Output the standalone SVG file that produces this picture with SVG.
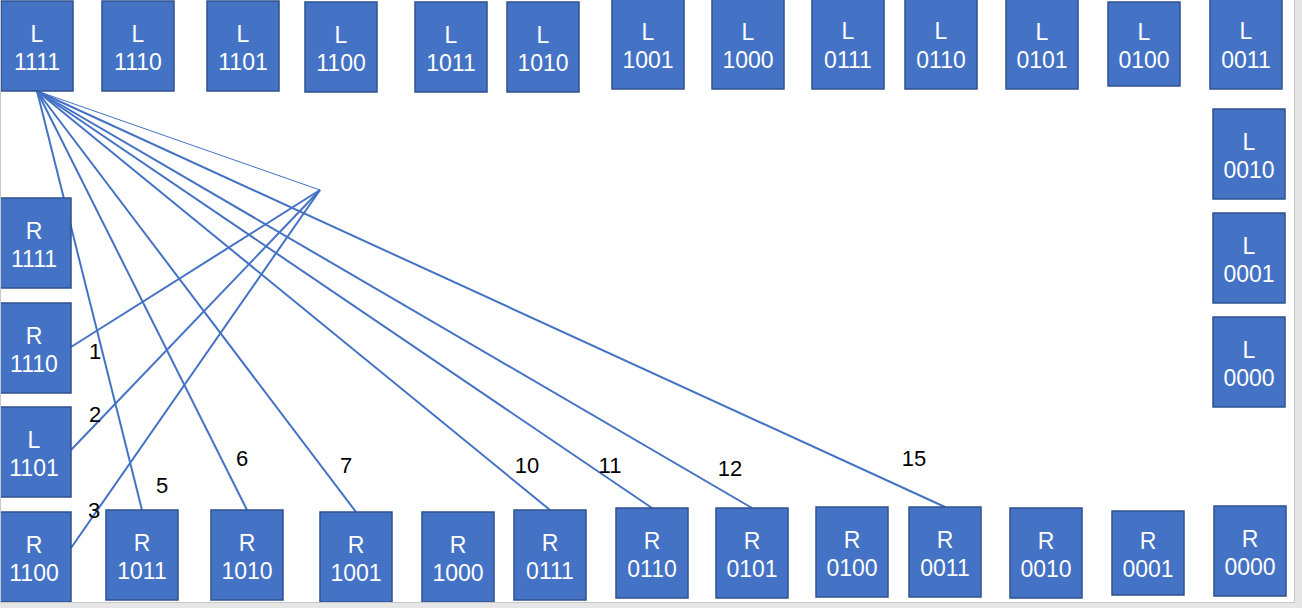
<svg xmlns="http://www.w3.org/2000/svg" width="1302" height="608" viewBox="0 0 1302 608">
<style>
.box{fill:#4472c4;stroke:#2f528f;stroke-width:1.5}
.t{font-family:"Liberation Sans",Arial,sans-serif;font-size:23px;fill:#ffffff;text-anchor:middle}
.n{font-family:"Liberation Sans",Arial,sans-serif;font-size:22px;fill:#000000;text-anchor:middle}
.c{stroke:#4472c4;stroke-width:2;fill:none}
.thin{stroke:#4472c4;stroke-width:1;fill:none}
</style>
<rect x="0" y="0" width="1302" height="608" fill="#ffffff"/>
<g id="connectors">
<line class="c" x1="37" y1="91" x2="142" y2="510"/>
<line class="c" x1="37" y1="91" x2="247" y2="510"/>
<line class="c" x1="37" y1="91" x2="356" y2="512"/>
<line class="c" x1="37" y1="91" x2="550" y2="510"/>
<line class="c" x1="37" y1="91" x2="652" y2="508"/>
<line class="c" x1="37" y1="91" x2="752" y2="508"/>
<line class="c" x1="37" y1="91" x2="945" y2="507"/>
<line class="thin" x1="37" y1="91" x2="320" y2="190"/>
<line class="c" x1="320" y1="190" x2="71" y2="347"/>
<line class="c" x1="320" y1="190" x2="71" y2="450"/>
<line class="c" x1="320" y1="190" x2="71" y2="548"/>
</g>
<g id="L1111"><rect class="box" x="1" y="1" width="72" height="90"/><text class="t" x="37" y="41.5">L</text><text class="t" x="37" y="70">1111</text></g>
<g id="L1110"><rect class="box" x="102" y="1" width="72" height="90"/><text class="t" x="138" y="41.5">L</text><text class="t" x="138" y="70">1110</text></g>
<g id="L1101"><rect class="box" x="207" y="1" width="72" height="90"/><text class="t" x="243" y="41.5">L</text><text class="t" x="243" y="70">1101</text></g>
<g id="L1100"><rect class="box" x="305" y="2" width="72" height="90"/><text class="t" x="341" y="42.5">L</text><text class="t" x="341" y="71">1100</text></g>
<g id="L1011"><rect class="box" x="415" y="2" width="72" height="90"/><text class="t" x="451" y="42.5">L</text><text class="t" x="451" y="71">1011</text></g>
<g id="L1010"><rect class="box" x="507" y="2" width="72" height="90"/><text class="t" x="543" y="42.5">L</text><text class="t" x="543" y="71">1010</text></g>
<g id="L1001"><rect class="box" x="612" y="-1" width="72" height="90"/><text class="t" x="648" y="39.5">L</text><text class="t" x="648" y="68">1001</text></g>
<g id="L1000"><rect class="box" x="712" y="-1" width="72" height="90"/><text class="t" x="748" y="39.5">L</text><text class="t" x="748" y="68">1000</text></g>
<g id="L0111"><rect class="box" x="812" y="-1" width="72" height="90"/><text class="t" x="848" y="39">L</text><text class="t" x="848" y="67.5">0111</text></g>
<g id="L0110"><rect class="box" x="905" y="-1" width="72" height="90"/><text class="t" x="941" y="39">L</text><text class="t" x="941" y="67.5">0110</text></g>
<g id="L0101"><rect class="box" x="1006" y="-1" width="72" height="90"/><text class="t" x="1042" y="39.5">L</text><text class="t" x="1042" y="68">0101</text></g>
<g id="L0100"><rect class="box" x="1108" y="2" width="72" height="84"/><text class="t" x="1144" y="39.5">L</text><text class="t" x="1144" y="68">0100</text></g>
<g id="L0011"><rect class="box" x="1210" y="-1" width="72" height="90"/><text class="t" x="1246" y="39">L</text><text class="t" x="1246" y="67.5">0011</text></g>
<g id="L0010"><rect class="box" x="1213" y="109" width="72" height="90"/><text class="t" x="1249" y="149.5">L</text><text class="t" x="1249" y="178">0010</text></g>
<g id="L0001"><rect class="box" x="1213" y="213" width="72" height="90"/><text class="t" x="1249" y="253.5">L</text><text class="t" x="1249" y="282">0001</text></g>
<g id="L0000"><rect class="box" x="1213" y="317" width="72" height="90"/><text class="t" x="1249" y="357.5">L</text><text class="t" x="1249" y="386">0000</text></g>
<g id="R1111"><rect class="box" x="-1" y="198" width="72" height="90"/><text class="t" x="34" y="238.5">R</text><text class="t" x="34" y="267">1111</text></g>
<g id="R1110"><rect class="box" x="-1" y="303" width="72" height="90"/><text class="t" x="34" y="343.5">R</text><text class="t" x="34" y="372">1110</text></g>
<g id="L1101b"><rect class="box" x="-1" y="407" width="72" height="90"/><text class="t" x="34" y="447.5">L</text><text class="t" x="34" y="476">1101</text></g>
<g id="R1100"><rect class="box" x="-1" y="512" width="72" height="90"/><text class="t" x="34" y="552.5">R</text><text class="t" x="34" y="581">1100</text></g>
<g id="R1011"><rect class="box" x="106" y="510" width="72" height="90"/><text class="t" x="142" y="550.5">R</text><text class="t" x="142" y="579">1011</text></g>
<g id="R1010"><rect class="box" x="211" y="510" width="72" height="90"/><text class="t" x="247" y="550.5">R</text><text class="t" x="247" y="579">1010</text></g>
<g id="R1001"><rect class="box" x="320" y="512" width="72" height="90"/><text class="t" x="356" y="552.5">R</text><text class="t" x="356" y="581">1001</text></g>
<g id="R1000"><rect class="box" x="422" y="512" width="72" height="90"/><text class="t" x="458" y="552.5">R</text><text class="t" x="458" y="581">1000</text></g>
<g id="R0111"><rect class="box" x="514" y="510" width="72" height="90"/><text class="t" x="550" y="550.5">R</text><text class="t" x="550" y="579">0111</text></g>
<g id="R0110"><rect class="box" x="616" y="508" width="72" height="90"/><text class="t" x="652" y="548.5">R</text><text class="t" x="652" y="577">0110</text></g>
<g id="R0101"><rect class="box" x="716" y="508" width="72" height="90"/><text class="t" x="752" y="548.5">R</text><text class="t" x="752" y="577">0101</text></g>
<g id="R0100"><rect class="box" x="816" y="507" width="72" height="90"/><text class="t" x="852" y="547.5">R</text><text class="t" x="852" y="576">0100</text></g>
<g id="R0011"><rect class="box" x="909" y="507" width="72" height="90"/><text class="t" x="945" y="547.5">R</text><text class="t" x="945" y="576">0011</text></g>
<g id="R0010"><rect class="box" x="1010" y="508" width="72" height="90"/><text class="t" x="1046" y="548.5">R</text><text class="t" x="1046" y="577">0010</text></g>
<g id="R0001"><rect class="box" x="1112" y="511" width="72" height="84"/><text class="t" x="1148" y="548.5">R</text><text class="t" x="1148" y="577">0001</text></g>
<g id="R0000"><rect class="box" x="1214" y="506" width="72" height="90"/><text class="t" x="1250" y="546.5">R</text><text class="t" x="1250" y="575">0000</text></g>
<g id="labels">
<text class="n" x="95" y="359">1</text>
<text class="n" x="95" y="422">2</text>
<text class="n" x="94" y="518">3</text>
<text class="n" x="162" y="493">5</text>
<text class="n" x="242" y="466">6</text>
<text class="n" x="346" y="473">7</text>
<text class="n" x="527" y="473">10</text>
<text class="n" x="610" y="473">11</text>
<text class="n" x="730" y="476">12</text>
<text class="n" x="914" y="466">15</text>
</g>
<g id="frame">
<line x1="0.5" y1="0" x2="0.5" y2="602" stroke="#c8c8c8" stroke-width="1"/>
<rect x="1295" y="0" width="7" height="608" fill="#e6e6e6"/>
<rect x="0" y="603" width="1302" height="5" fill="#e6e6e6"/>
<line x1="1294.5" y1="0" x2="1294.5" y2="603" stroke="#c8c8c8" stroke-width="1"/>
<line x1="0" y1="602.5" x2="1295" y2="602.5" stroke="#c8c8c8" stroke-width="1"/>
</g>
</svg>
